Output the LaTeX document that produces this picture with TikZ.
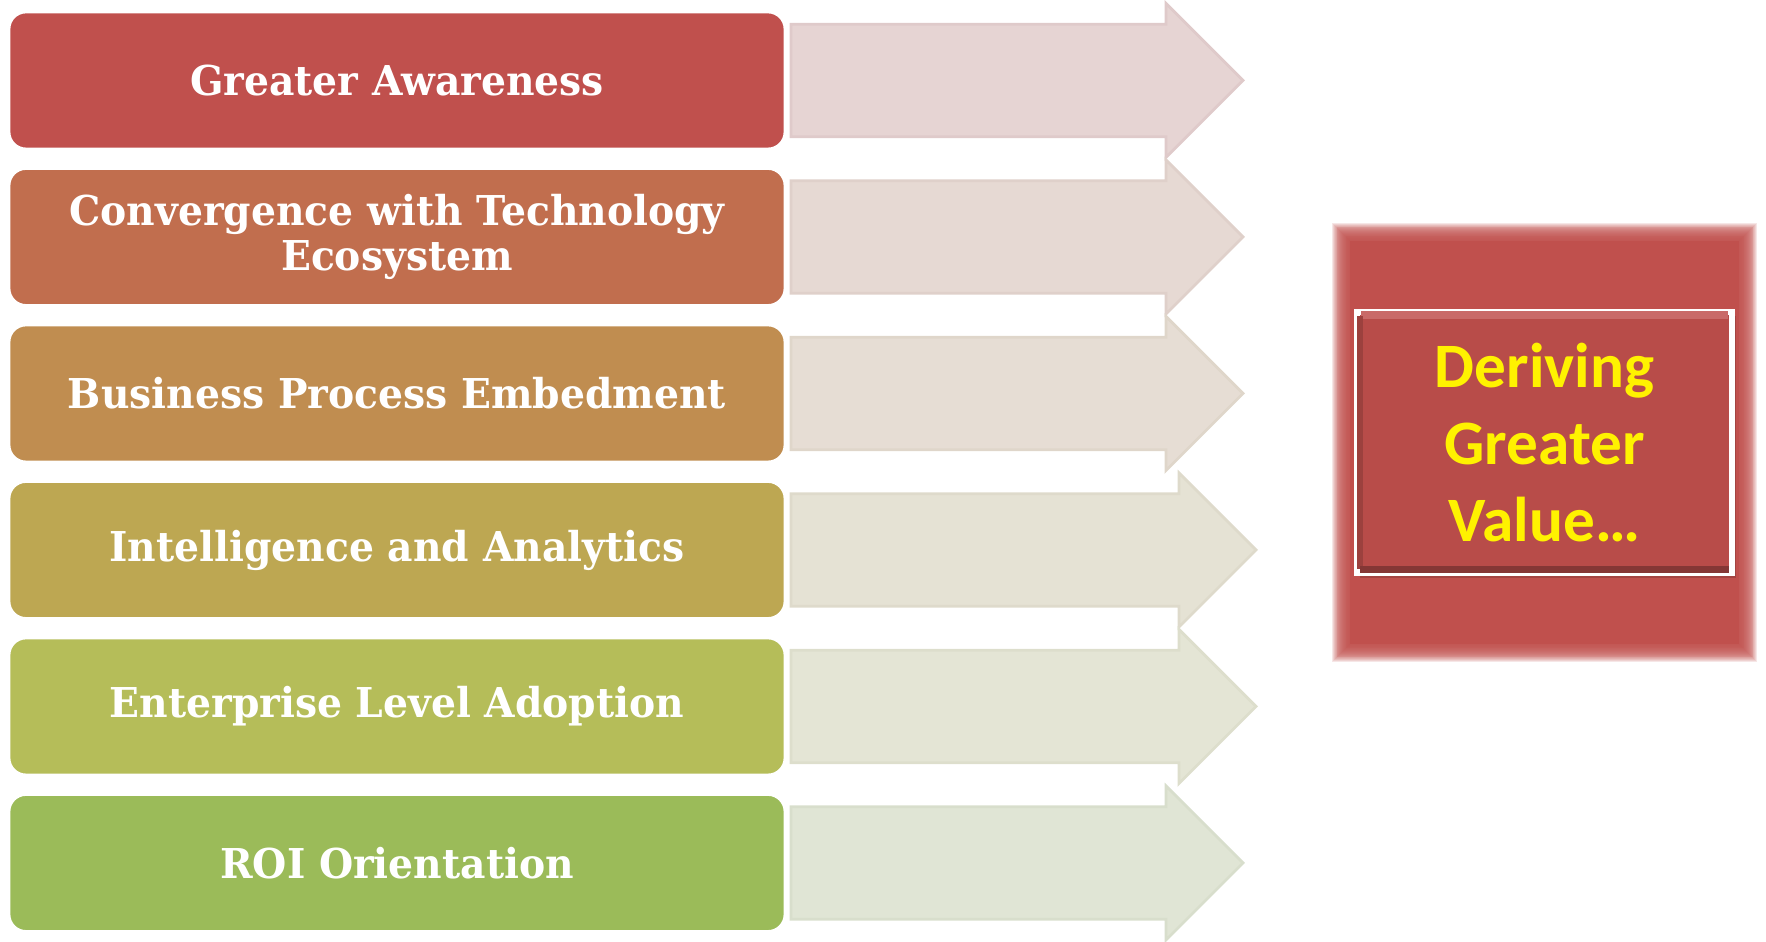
\documentclass[tikz,border=0pt]{standalone}
\usepackage{fontspec}
\setmainfont{DejaVu Serif}[FakeStretch=0.955]
\setsansfont{Carlito}
\usetikzlibrary{positioning}

\definecolor{c1}{HTML}{C0504D}
\definecolor{c2}{HTML}{C16E4E}
\definecolor{c3}{HTML}{C08D50}
\definecolor{c4}{HTML}{BDA752}
\definecolor{c5}{HTML}{B5BD59}
\definecolor{c6}{HTML}{9BBB59}
\definecolor{innerred}{HTML}{B84C49}

\begin{document}
\begin{tikzpicture}[x=1cm,y=1cm,
box/.style={rectangle,rounded corners=0.17cm,draw=white,line width=0.8pt,outer sep=0pt,
  minimum width=7.76cm,minimum height=1.37cm,text=white,align=center,
  font=\bfseries\fontsize{11.7}{12.8}\selectfont},
arrowbody/.style={draw=#1!20!white!92!black,fill=#1!17!white!94!black,line width=0.8pt}]

\useasboundingbox (0,0) rectangle (17.66,9.42);

\node (b1) [box,fill=c1] at (3.97,8.615) {Greater Awareness};
\node (b2) [box,fill=c2,below=0.195cm of b1] {Convergence with Technology\\Ecosystem};
\node (b3) [box,fill=c3,below=0.195cm of b2] {Business Process Embedment};
\node (b4) [box,fill=c4,below=0.195cm of b3] {Intelligence and Analytics};
\node (b5) [box,fill=c5,below=0.195cm of b4] {Enterprise Level Adoption};
\node (b6) [box,fill=c6,below=0.195cm of b5] {ROI Orientation};

% arrows
\foreach \i/\len in {1/3.75,2/3.75,3/3.75,4/3.88,5/3.88,6/3.75}
  \filldraw[arrowbody=c\i] ([xshift=0.06cm,yshift=0.563cm]b\i.east) -- ++(\len,0) -- ++(0,0.207)
    -- ++(0.77,-0.77) -- ++(-0.77,-0.77) -- ++(0,0.207) -- ++(-\len,0) -- cycle;

% value panel (soft edge)
\foreach \k in {0,...,19}
  \fill[c1,opacity=0.14] (13.32+\k*0.009,2.80+\k*0.009) rectangle (17.57-\k*0.009,7.19-\k*0.009);
\fill[c1] (13.50,2.98) rectangle (17.39,7.01);

\fill[black,opacity=0.15] (13.60,3.64) rectangle (17.36,6.26);
\node (val) [rectangle,draw=white,line width=1.7pt,fill=innerred,minimum width=3.75cm,minimum height=2.61cm,
  text=yellow,align=center,font=\sffamily\bfseries\fontsize{18}{21.8}\selectfont] at (15.445,4.995)
  {Deriving\\Greater\\Value…};
\draw[line width=2pt,color=c1!85!white] ([shift={(0.07,-0.06)}]val.north west) -- ([shift={(-0.07,-0.06)}]val.north east);
\draw[line width=1.5pt,color=innerred!85!black] ([shift={(0.06,-0.07)}]val.north west) -- ([shift={(0.06,0.07)}]val.south west);
\draw[line width=2pt,color=innerred!72!black] ([shift={(0.06,0.06)}]val.south west) -- ([shift={(-0.06,0.06)}]val.south east);

\end{tikzpicture}
\end{document}
